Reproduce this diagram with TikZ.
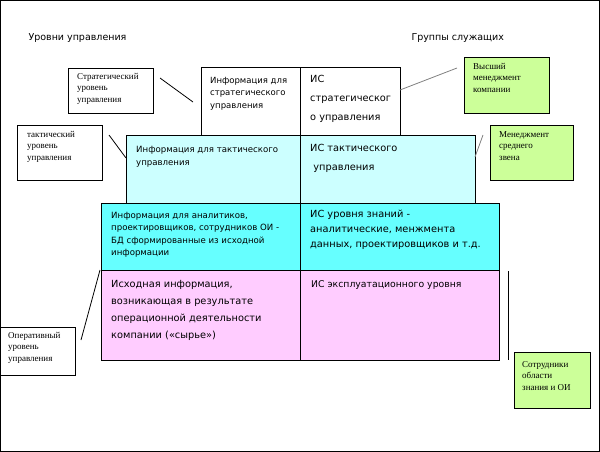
\documentclass[tikz,border=0pt]{standalone}
\usepackage{fontspec}
\setmainfont{Liberation Serif}
\newfontfamily\sansf{DejaVu Sans}
\begin{document}
\begin{tikzpicture}[x=1pt,y=-1pt,
 cell/.style={draw,line width=1pt,anchor=north west,inner sep=0pt},
 ct/.style={anchor=north west,align=left,inner sep=0pt},
 lab/.style={draw,line width=0.8pt,anchor=north west,inner sep=0pt},
 lt/.style={anchor=north west,align=left,font=\fontsize{9}{11.5}\selectfont,inner sep=0pt},
 conn/.style={line width=0.8pt}]
\definecolor{tcy}{HTML}{CCFFFF}\definecolor{kcy}{HTML}{66FFFF}
\definecolor{opk}{HTML}{FFCCFF}\definecolor{grn}{HTML}{CCFF99}
\draw[line width=1pt] (0.5,0.5) rectangle (599.5,451.5);
\useasboundingbox (0,0) rectangle (600,452);
\node[anchor=west,font=\sansf\fontsize{9.5}{10}\selectfont] (t1) at (25,38) {Уровни управления};
\node[anchor=west,font=\sansf\fontsize{9.5}{10}\selectfont] (t2) at (408,38) {Группы служащих};
% cells
\node[cell,minimum width=99pt,minimum height=68pt] (s1) at (201,67) {};
\node[cell,minimum width=100pt,minimum height=68pt] (s2) at (300,67) {};
\node[cell,fill=tcy,minimum width=174pt,minimum height=68pt] (a1) at (126,135) {};
\node[cell,fill=tcy,minimum width=175pt,minimum height=68pt] (a2) at (300,135) {};
\node[cell,fill=kcy,minimum width=199pt,minimum height=67pt] (k1) at (101,203) {};
\node[cell,fill=kcy,minimum width=199pt,minimum height=67pt] (k2) at (300,203) {};
\node[cell,fill=opk,minimum width=199pt,minimum height=90pt] (o1) at (101,270) {};
\node[cell,fill=opk,minimum width=199pt,minimum height=90pt] (o2) at (300,270) {};
\node[ct,font=\sansf\fontsize{8.5}{12.5}\selectfont] at (210,77) {Информация для\\стратегического\\управления};
\node[ct,font=\sansf\fontsize{9.8}{19}\selectfont] at (310,75) {ИС\\стратегическог\\о управления};
\node[ct,font=\sansf\fontsize{8.6}{13.5}\selectfont] at (136,146) {Информация для тактического\\управления};
\node[ct,font=\sansf\fontsize{9.8}{19}\selectfont] at (310,144) {ИС тактического\\\ управления};
\node[ct,font=\sansf\fontsize{8.6}{12.5}\selectfont] at (111,212) {Информация для аналитиков,\\проектировщиков, сотрудников ОИ -\\БД сформированные из исходной\\информации};
\node[ct,font=\sansf\fontsize{9.8}{15}\selectfont] at (310,210) {ИС уровня знаний -\\аналитические, менжмента\\данных, проектировщиков и т.д.};
\node[ct,font=\sansf\fontsize{9.8}{17}\selectfont] at (111,280) {Исходная информация,\\возникающая в результате\\операционной деятельности\\компании («сырье»)};
\node[ct,font=\sansf\fontsize{9.3}{15}\selectfont] at (311,280) {ИС эксплуатационного уровня};
% labels
\node[lab,minimum width=85pt,minimum height=45pt] (l1) at (68,68) {};
\node[lt] at (77,73) {Стратегический\\уровень\\управления};
\node[lab,minimum width=85pt,minimum height=55pt] (l2) at (17,125) {};
\node[lt] at (27,131) {тактический\\уровень\\управления};
\node[lab,minimum width=75pt,minimum height=48pt] (l3) at (0,327) {};
\node[lt] at (8,332) {Оперативный\\уровень\\управления};
\node[lab,fill=grn,minimum width=85pt,minimum height=56pt] (r1) at (464,57) {};
\node[lt] at (473,63) {Высший\\менеджмент\\компании};
\node[lab,fill=grn,minimum width=83pt,minimum height=55pt] (r2) at (490,125) {};
\node[lt] at (499,131) {Менеджмент\\среднего\\звена};
\node[lab,fill=grn,minimum width=76pt,minimum height=56pt] (r3) at (514,352) {};
\node[lt] at (522,361) {Сотрудники\\области\\знания и ОИ};
% connectors
\coordinate (c1a) at (160,78); \coordinate (c1b) at (193,102);
\coordinate (c2a) at (109,135); \coordinate (c2b) at (126,158);
\coordinate (c3a) at (81,340); \coordinate (c3b) at (100,270);
\coordinate (c4a) at (400,90); \coordinate (c4b) at (457,68);
\coordinate (c5a) at (475,157); \coordinate (c5b) at (483,135);
\coordinate (c6a) at (508,271); \coordinate (c6b) at (508,360);
\draw[conn] (c1a)--(c1b); \draw[conn] (c2a)--(c2b); \draw[conn] (c3a)--(c3b);
\draw[conn,gray] (c4a)--(c4b); \draw[conn,gray] (c5a)--(c5b); \draw[conn] (c6a)--(c6b);
\end{tikzpicture}
\end{document}
